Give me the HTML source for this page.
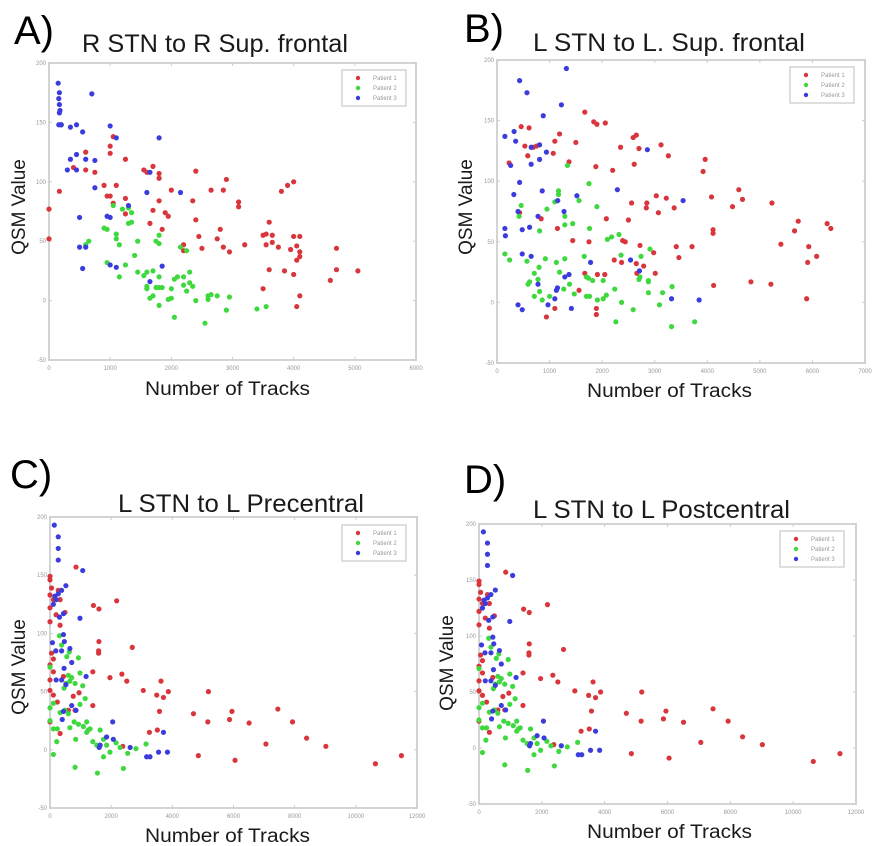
<!DOCTYPE html>
<html><head><meta charset="utf-8"><style>
body{margin:0;background:#fff;}
svg{display:block;font-family:"Liberation Sans",sans-serif;}
.tick{font-size:6px;fill:#999;}
.big{font-size:40px;fill:#000;}
.title{font-size:25px;fill:#1a1a1a;}
.axl{font-size:19px;fill:#1a1a1a;}
.leg{font-size:6px;fill:#999;}
</style></head><body>
<svg id="fig" width="878" height="846" viewBox="0 0 878 846"></svg>
<script>
// Panel A data
const aCategories = ["Patient 1","Patient 2","Patient 3"];
const aP1x = [0,0,170,400,600,600,750,1000,1000,1050,900,1100,950,1000,1050,1250,1250,1250,1550,1600,1700,1800,1800,1800,1700,1650,1850,1900,1950,2000,2400,2350,2400,2450,2500,2650,2850,2900,2750,2800,2850,2950,3100,3100,3200,3500,3550,3600,3650,3550,3650,3750,3900,4000,3800,4000,4050,4100,4050,4100,3950,4100,4000,4050,4100,3500,3600,3850,4600,4700,4700,5050,2200,2200];
const aP1y = [77,52,92,112,125,110,108,130,124,138,97,97,88,88,82,119,86,73,110,108,113,107,103,84,76,65,60,74,71,93,109,84,68,54,44,93,93,102,52,60,45,41,83,79,47,55,56,66,55,47,49,45,97,100,92,54,46,54,34,37,43,41,22,-5,4,10,26,25,17,44,26,25,42,47];
const aP2x = [1050,1200,1300,1350,1300,1350,1100,1100,1150,950,900,650,600,1450,1400,1750,1800,1800,1250,1150,950,1450,1600,1700,1550,1600,1600,1800,1800,1750,1850,1700,1650,1800,2000,1950,2050,2000,2100,2200,2150,2250,2300,2250,2350,2300,2200,2400,2600,2650,2600,2750,2950,2900,2050,2550,3400,3550];
const aP2y = [80,77,78,74,65,66,56,52,47,60,61,50,47,50,38,50,55,48,30,20,32,24,24,25,21,12,10,20,11,11,11,4,2,-4,2,1,18,10,20,20,45,42,24,8,12,15,13,0,4,5,1,4,3,-8,-14,-19,-7,-5];
const aP3x = [150,170,160,170,180,170,200,700,160,200,350,450,1000,550,1100,1800,450,350,600,750,300,450,750,1600,1300,1650,500,950,1000,2150,500,600,550,1000,1100,1850,1650];
const aP3y = [183,175,170,165,160,158,148,174,148,148,146,148,147,142,137,137,123,119,119,118,110,110,95,91,80,108,70,71,70,91,45,45,27,30,28,29,16];
const aXTicks = [0,1000,2000,3000,4000,5000,6000];
// Panel B data
const bP1x = [460,610,530,690,750,585,1100,1190,1070,230,1370,1500,1670,1840,1900,2060,1880,2200,2610,2590,2650,2700,3120,3260,2350,3960,3920,2560,2850,2840,3030,3220,3070,3370,2080,2500,4080,4600,4670,4480,5230,4110,4110,5400,5730,5660,6280,6350,5930,6080,5910,5890,4830,5210,4120,3410,3710,3460,2720,2980,2390,2440,2370,2230,2790,2650,2660,3010,840,1150,1440,1750,430,1670,1910,2050,1560,1100,940,1890,1890];
const bP1y = [145,144,129,128,129,121,133,139,123,115,116,132,157,149,147,148,112,109,114,136,138,127,130,121,128,118,108,82,82,78,88,86,74,78,69,68,87,93,85,79,82,60,57,48,67,59,65,61,46,38,33,3,17,15,14,46,46,37,47,41,51,50,33,35,30,32,24,24,69,61,51,50,74,24,23,23,10,-5,-12,-5,-10];
const bP2x = [460,420,950,1100,1170,1170,1340,1750,1900,1560,1290,1440,1290,810,1760,2320,2180,2100,2910,2360,150,240,570,920,1130,1290,1660,800,710,780,590,620,810,710,860,1000,1190,1270,1470,1380,1700,1760,1700,1820,1740,1910,2020,2020,2240,2080,2370,2260,2590,2700,2720,2880,2880,3090,3150,3330,3320,3760,2740,2880];
const bP2y = [80,71,77,83,92,89,113,98,79,84,71,65,64,59,61,56,54,52,44,39,40,35,34,36,33,36,38,29,24,19,15,17,9,5,2,5,25,11,7,15,5,5,21,18,20,2,18,3,11,6,0,-16,-6,19,21,18,8,-2,8,13,-20,-16,38,17];
const bP3x = [1320,430,570,1225,880,150,325,355,810,650,940,810,650,260,2860,430,320,860,2290,1520,1155,3540,400,1275,150,160,480,620,780,480,650,1780,2540,2710,780,1370,1290,1130,1150,1100,970,400,480,1415,3320,3845];
const bP3y = [193,183,173,163,154,137,141,133,130,128,124,118,114,113,126,99,89,92,93,88,84,84,75,75,61,55,60,62,71,40,38,33,35,26,15,23,21,10,12,3,-2,-2,-6,-5,3,2];
const bXTicks = [0,1000,2000,3000,4000,5000,6000,7000];
// Panel C / D data
const cP1x = [0,0,50,0,110,0,200,0,330,490,330,270,850,1420,1600,2180,1600,1590,1590,2690,50,110,0,110,1400,440,1960,2350,2510,3630,0,0,110,950,760,3050,3490,3710,3870,5180,240,1400,600,820,3580,4690,5950,0,330,3250,3510,5160,5870,6510,7450,7930,7060,8390,9020,4850,6050,10640,11490,2380];
const cP1y = [149,146,139,133,129,122,116,110,107,118,129,137,157,124,121,128,93,85,83,88,83,78,73,67,67,63,62,65,59,59,60,51,47,49,46,51,47,45,50,50,41,38,34,34,33,31,33,24,14,15,17,24,26,23,35,24,5,10,3,-5,-9,-12,-5,3];
const cP2x = [310,380,630,550,930,980,600,710,650,820,1070,520,460,0,110,0,330,490,1150,980,600,650,790,930,1090,1200,1200,1310,1640,1400,0,110,240,220,840,1750,1850,1960,2160,2290,2540,2810,3140,1750,110,820,1550,2400,1530,1250];
const cP2y = [98,90,84,80,79,66,64,62,59,57,55,57,53,71,40,36,32,34,44,39,31,19,24,22,20,24,15,18,17,7,25,18,18,7,9,9,4,-2,6,2,-3,1,5,-6,-4,-15,-20,-16,4,17];
const cP3x = [140,270,270,270,1070,520,380,160,200,110,270,440,980,310,440,80,470,650,380,190,710,460,1180,200,380,520,710,850,440,400,2050,2070,1640,1610,1850,2620,3160,3270,3550,3840,3710];
const cP3y = [193,183,173,163,154,141,137,132,129,125,134,117,113,114,99,92,93,87,85,85,75,70,63,60,60,56,38,34,33,26,24,9,4,2,11,2,-6,-6,-2,-2,15];
const cXTicks = [0,2000,4000,6000,8000,10000,12000];
const yTicks = [-50,0,50,100,150,200];

const svg = document.getElementById('fig');
const NS = 'http://www.w3.org/2000/svg';
const COLORS = ['#d8363c','#3fd83f','#3c3cdc'];
function mk(tag, attrs, parent){
  const e = document.createElementNS(NS, tag);
  for (const k in attrs) e.setAttribute(k, attrs[k]);
  (parent||svg).appendChild(e);
  return e;
}
function txt(s, x, y, cls, parent, extra){
  const t = mk('text', Object.assign({x:x, y:y, class:cls}, extra||{}), parent);
  t.textContent = s;
  return t;
}

function panel(cfg){
  const g = mk('g', {});
  
  
  const {x0,x1,y0,y1,xmax} = cfg;
  const sx = v => x0 + v / xmax * (x1 - x0);
  const sy = v => y1 - (v + 50) / 250 * (y1 - y0);
  const frame = mk('rect', {x:x0, y:y0, width:x1-x0, height:y1-y0, fill:'#fff', stroke:'#d4d4d4', 'stroke-width':2}, g);
  
  
  // ticks
  cfg.xticks.forEach(v => {
    const X = sx(v);
    mk('line', {x1:X, x2:X, y1:y1, y2:y1-3, stroke:'#ccc'}, g);
    mk('line', {x1:X, x2:X, y1:y0, y2:y0+3, stroke:'#ccc'}, g);
    const t = txt(String(v), X, y1+10, 'tick', g, {'text-anchor':'middle'});
    
    
  });
  yTicks.forEach(v => {
    const Y = sy(v);
    mk('line', {x1:x0, x2:x0+3, y1:Y, y2:Y, stroke:'#ccc'}, g);
    mk('line', {x1:x1, x2:x1-3, y1:Y, y2:Y, stroke:'#ccc'}, g);
    const t = txt(String(v), x0-3, Y+2, 'tick', g, {'text-anchor':'end'});
    
    
  });
  // points
  cfg.series.forEach((s, i) => {
    const sg = mk('g', {fill:COLORS[i]}, g);
    
    
    s[0].forEach((xv, j) => {
      const c = mk('circle', {cx:sx(xv), cy:sy(s[1][j]), r:2.6}, sg);
      
      
    });
  });
  // legend
  const lg = mk('g', {}, g);
  
  
  const [lx, ly] = cfg.legend;
  mk('rect', {x:lx, y:ly, width:64, height:36, fill:'#fff', stroke:'#d4d4d4', 'stroke-width':1.5}, lg);
  aCategories.forEach((name, i) => {
    const e = mk('g', {}, lg);
    
    
    mk('circle', {cx:lx+16, cy:ly+8+i*10, r:2.2, fill:COLORS[i]}, e);
    txt(name, lx+31, ly+10+i*10, 'leg', e);
  });
  // labels
  const big = txt(cfg.letter, cfg.lpos[0], cfg.lpos[1], 'big', g);
  
  
  const tt = txt(cfg.title, cfg.tpos[0], cfg.tpos[1], 'title', g, {textLength:cfg.tpos[2], lengthAdjust:'spacingAndGlyphs'});
  
  
  const xl = txt('Number of Tracks', cfg.xl[0], cfg.xl[1], 'axl', g, {textLength:165, lengthAdjust:'spacingAndGlyphs'});
  
  
  const yl = txt('QSM Value', 0, 0, 'axl', g, {'text-anchor':'middle', transform:'translate(' + cfg.yl[0] + ',' + cfg.yl[1] + ') rotate(-90)'});
  
  
}

panel({id:'a', x0:49, x1:416, y0:63, y1:360, xmax:6000, xticks:aXTicks,
  series:[[aP1x,aP1y],[aP2x,aP2y],[aP3x,aP3y]], legend:[342,70],
  letter:'A)', lpos:[14,44], title:'R STN to R Sup. frontal', tpos:[82,52,266],
  xl:[145,395], yl:[25,207]});
panel({id:'b', x0:497, x1:865, y0:60, y1:363, xmax:7000, xticks:bXTicks,
  series:[[bP1x,bP1y],[bP2x,bP2y],[bP3x,bP3y]], legend:[790,67],
  letter:'B)', lpos:[464,42], title:'L STN to L. Sup. frontal', tpos:[533,51,272],
  xl:[587,397], yl:[472,207]});
panel({id:'c', x0:50, x1:417, y0:517, y1:808, xmax:12000, xticks:cXTicks,
  series:[[cP1x,cP1y],[cP2x,cP2y],[cP3x,cP3y]], legend:[342,525],
  letter:'C)', lpos:[10,488], title:'L STN to L Precentral', tpos:[118,512,246],
  xl:[145,842], yl:[25,667]});
panel({id:'d', x0:479, x1:856, y0:524, y1:804, xmax:12000, xticks:cXTicks,
  series:[[cP1x,cP1y],[cP2x,cP2y],[cP3x,cP3y]], legend:[780,531],
  letter:'D)', lpos:[464,493], title:'L STN to L Postcentral', tpos:[533,518,257],
  xl:[587,838], yl:[453,663]});
</script>
</body></html>
